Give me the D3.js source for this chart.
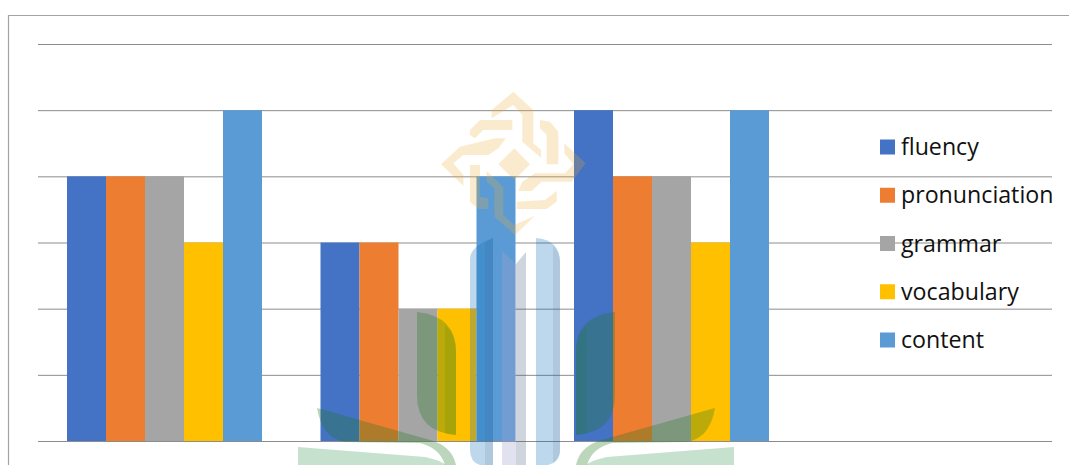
<!DOCTYPE html>
<html><head><meta charset="utf-8"><script src="https://cdn.jsdelivr.net/npm/d3@7"></script>
<style>html,body{margin:0;background:#fff}svg{display:block}</style></head><body><svg id="c" width="1069" height="465"></svg>
<script>
const groups=["A","B","C"];
const series=["fluency","pronunciation","grammar","vocabulary","content"];
const colors=["#4472c4","#ed7d31","#a5a5a5","#ffc000","#5b9bd5"];
const fluency=[4,3,5];
const pronunciation=[4,3,4];
const grammar=[4,2,4];
const vocabulary=[3,2,3];
const content=[5,4,5];
const table=[fluency,pronunciation,grammar,vocabulary,content];
const ticks=[0,1,2,3,4,5,6];
const svg=d3.select("#c");
svg.append("defs").append("filter").attr("id","soft").append("feGaussianBlur").attr("stdDeviation",.6);
svg.append("path").attr("d","M8.5,465V15.5H1069").attr("fill","none").attr("stroke","#a3a3a3").attr("stroke-width",1.2);
const y=d3.scaleLinear().domain([0,6]).range([441,44]);
const x0=d3.scaleBand().domain(groups).range([38,798.5]);
const x1=d3.scaleBand().domain(series).range([29,224]);
svg.append("g").selectAll("line").data(ticks).join("line").attr("x1",38).attr("x2",1052).attr("y1",d=>y(d)+.5).attr("y2",d=>y(d)+.5).attr("stroke","#8c8c8c").attr("stroke-width",1);
series.forEach((s,i)=>{
 svg.append("g").selectAll("rect").data(table[i]).join("rect")
 .attr("x",(d,j)=>x0(groups[j])+x1(s)).attr("width",x1.bandwidth())
 .attr("y",d=>y(d)).attr("height",d=>y(0)-y(d)).attr("fill",colors[i]);
});
const lg=svg.append("g");
series.forEach((s,i)=>{
 const cy=147+i*48.25;
 lg.append("rect").attr("x",880).attr("y",cy-7.5).attr("width",15).attr("height",15).attr("fill",colors[i]);
 lg.append("text").attr("x",901).attr("y",cy+8).attr("font-family","'Open Sans',sans-serif").attr("font-size",23.2).attr("fill","#111").text(s);
});
// background watermark (decorative emblem, not data)
const wm=svg.append("g").attr("class","watermark").attr("filter","url(#soft)");
const gold=[
 [[170,75],[235,20],[295,75],[295,175],[318,195],[318,218],[262,170],[262,90],[235,60],[170,100]],
 [[105,135],[135,105],[232,105],[232,135],[145,135],[120,160],[105,150]],
 [[18,238],[75,185],[180,160],[213,160],[190,190],[160,210],[85,210],[55,235],[85,270],[85,302]],
 [[238,190],[285,238],[238,285],[190,238]],
 [[315,105],[345,110],[370,140],[370,238],[335,238],[335,150],[315,130]],
 [[388,175],[452,235],[410,290],[320,290],[290,318],[250,318],[262,290],[300,265],[390,265],[415,238],[388,205]],
 [[105,240],[135,240],[135,335],[160,340],[160,372],[130,372],[105,350]],
 [[155,258],[205,305],[205,390],[238,420],[300,392],[240,450],[178,395],[178,310],[155,290]],
 [[245,350],[330,345],[365,318],[365,350],[335,372],[245,372]]
];
const goldG=wm.append("g").attr("transform","translate(435,85) scale(.3333)");
goldG.selectAll("path").data(gold).join("path").attr("d",d=>d3.line()(d)+"Z").attr("fill","#efab2f").attr("fill-opacity",.24);
const cols=[
 ["M470,258Q471,246 493,238V465H480Q470,462 470,450Z","#0069b6",.26],
 ["M485,243L493,238V465H485Z","#3c5578",.13],
 ["M536,238Q560,240 560,262V450Q560,462 548,465H536Z","#0069b6",.26],
 ["M553,246Q560,252 560,262V450Q560,458 553,463Z","#3c5578",.13],
 ["M502,251L516,264V465H502Z","#a1a1d0",.32],
 ["M516,264L526,252V465H516Z","#3c5578",.25]
];
wm.append("g").selectAll("path").data(cols).join("path").attr("d",d=>d[0]).attr("fill",d=>d[1]).attr("fill-opacity",d=>d[2]);
const greenL=[
 ["M417,312Q456,316 456,352V435Q417,432 417,395Z",.3],
 ["M445,325Q456,334 456,352V435L445,433Z",.12],
 ["M317,408L430,440Q452,446 456,465H445Q440,448 420,443L345,442Q322,438 317,408Z",.3],
 ["M298,447L425,457Q440,460 446,465H298Z",.22]
];
const gL=wm.append("g"), gR=wm.append("g").attr("transform","translate(1032,0) scale(-1,1)");
[gL,gR].forEach(g=>g.selectAll("path").data(greenL).join("path").attr("d",d=>d[0]).attr("fill","#19781e").attr("fill-opacity",d=>d[1]));
</script></body></html>
